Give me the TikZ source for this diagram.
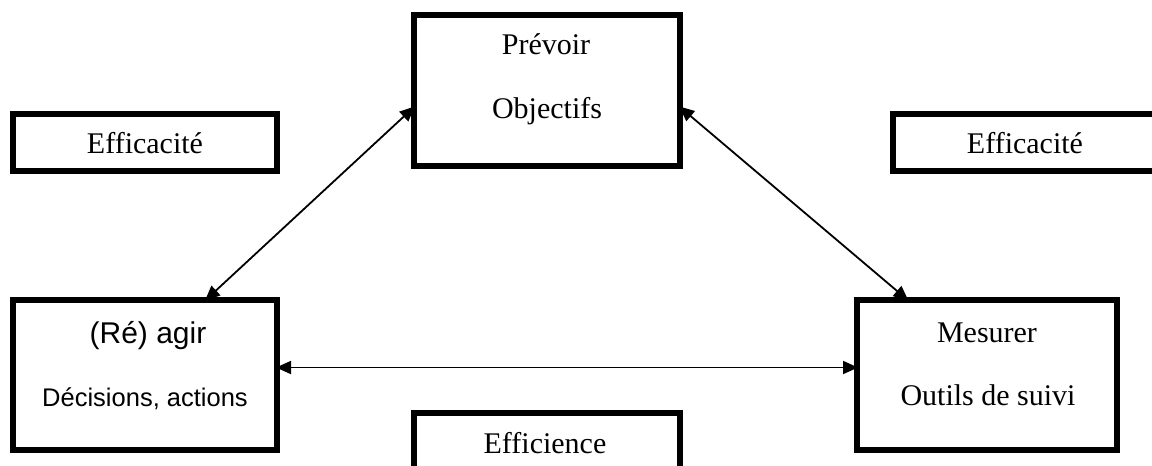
\documentclass[tikz,border=0pt]{standalone}
\usepackage{fontspec}
\setmainfont{Liberation Serif}
\newfontfamily\arialfont{Liberation Sans}
\usetikzlibrary{arrows.meta,calc}
\begin{document}
\begin{tikzpicture}[x=1pt,y=-1pt,
  frame/.style={draw=black, line width=6.5pt, fill=none, inner sep=0pt, outer sep=0pt},
  serif/.style={font=\fontsize{30pt}{36pt}\selectfont, anchor=base, inner sep=0pt},
  sans/.style={font=\arialfont\fontsize{25.5pt}{30pt}\selectfont, anchor=base, inner sep=0pt},
  bigsans/.style={font=\arialfont\fontsize{30pt}{36pt}\selectfont, anchor=base, inner sep=0pt},
  link/.style={line width=1.8pt, {Triangle[length=15pt,width=13pt]}-{Triangle[length=15pt,width=13pt]}, shorten <=-1pt, shorten >=-1pt}]
  \useasboundingbox (0,0) rectangle (1152,466);
  \fill[white] (0,0) rectangle (1152,466);

  % boxes
  \node[frame, minimum width=266pt, minimum height=151pt] (prev) at (547,90.5) {};
  \node[frame, minimum width=264pt, minimum height=57pt] (effL) at (145,142.5) {};
  \node[frame, minimum width=264pt, minimum height=57pt] (effR) at (1025,142.5) {};
  \node[frame, minimum width=264pt, minimum height=150pt] (agir) at (145,375) {};
  \node[frame, minimum width=260pt, minimum height=150pt] (mes) at (987,375) {};
  \node[frame, minimum width=266pt, minimum height=80pt] (effi) at (547,453) {};

  % labels
  \node[serif] (t1) at (546,54) {Prévoir};
  \node[serif] (t2) at (547,118) {Objectifs};
  \node[serif] (t3) at (145,153) {Efficacité};
  \node[serif] (t4) at (1025,153) {Efficacité};
  \node[bigsans] (t5) at (148,343) {(Ré) agir};
  \node[sans]  (t6) at (145,406) {Décisions, actions};
  \node[serif] (t7) at (987,342) {Mesurer};
  \node[serif] (t8) at (988,405) {Outils de suivi};
  \node[serif] (t9) at (545,453) {Efficience};

  % connectors
  \draw[link] ($(agir.north west)!0.73!(agir.north east)$) -- ($(prev.north west)!0.61!(prev.south west)$);
  \draw[link] ($(prev.north east)!0.61!(prev.south east)$) -- ($(mes.north west)!0.195!(mes.north east)$);
  \draw[link] ($(agir.north east)!0.45!(agir.south east)$) -- ($(mes.north west)!0.45!(mes.south west)$);
\end{tikzpicture}
\end{document}
